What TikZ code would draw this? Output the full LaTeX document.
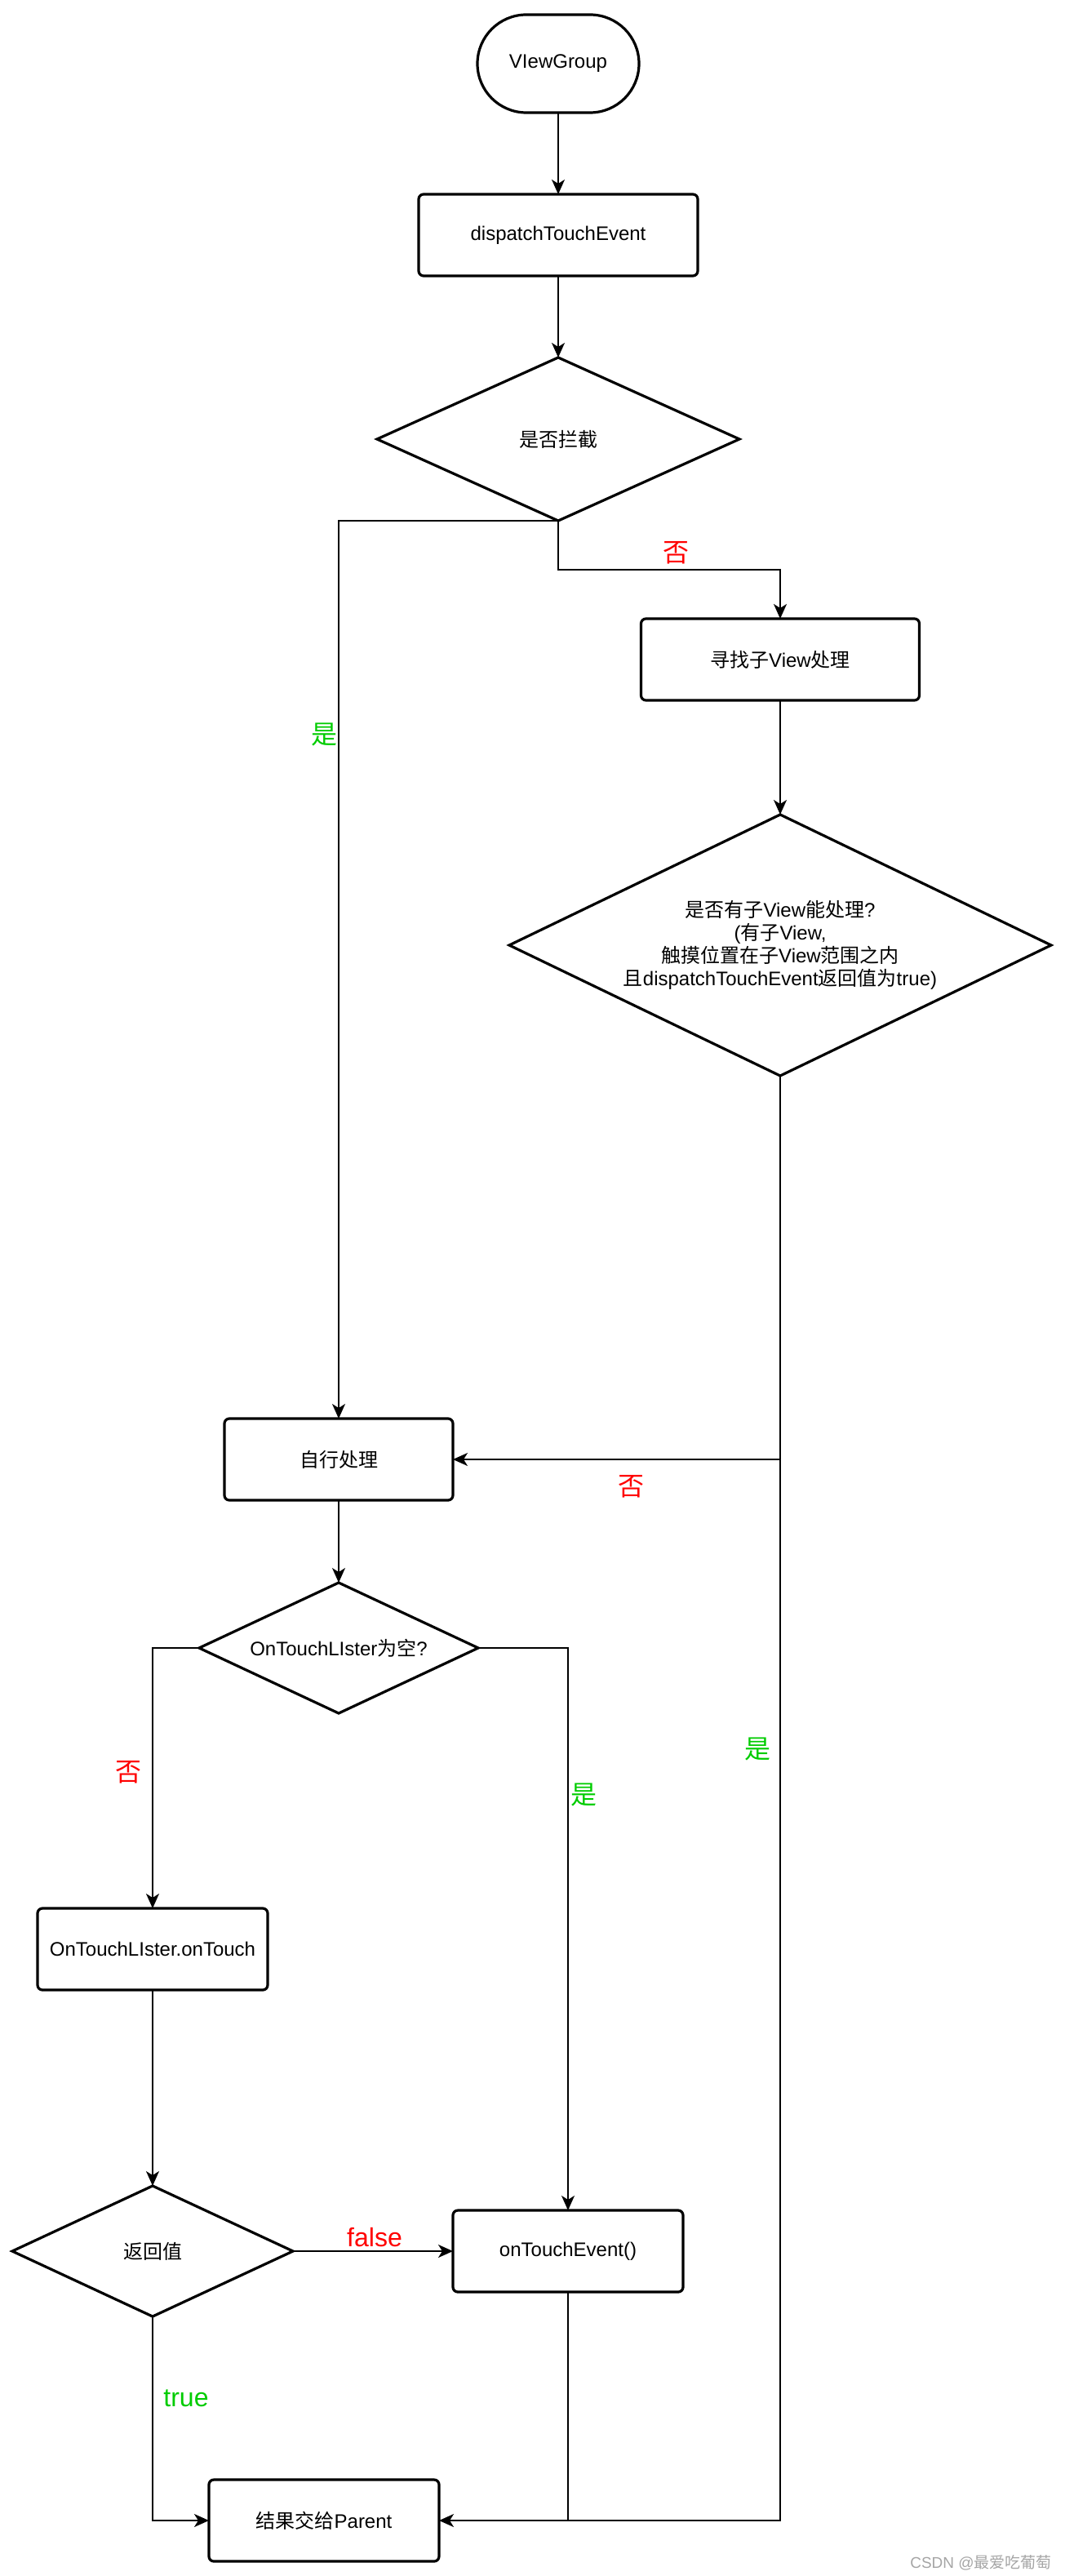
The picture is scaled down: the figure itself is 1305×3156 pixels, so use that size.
\documentclass[tikz,border=0pt]{standalone}
\usepackage{fontspec}
\setmainfont{Liberation Sans}
\newfontfamily\cjkf{Noto Sans CJK SC}
\newcommand\zh[1]{{\cjkf #1}}
\usetikzlibrary{shapes.geometric,shapes.misc,arrows.meta}
\definecolor{nored}{RGB}{255,0,0}
\definecolor{yesgreen}{RGB}{0,204,0}
\definecolor{wmgray}{RGB}{165,165,165}
\begin{document}
\begin{tikzpicture}[x=0.5pt,y=-0.5pt,
  basefont/.style={font=\fontsize{12}{14}\selectfont},
  box/.style={draw, line width=1.6pt, rounded corners=3pt, minimum height=50pt, inner sep=0pt, outer sep=0pt, basefont},
  startbox/.style={draw, rounded rectangle, line width=1.6pt, minimum width=99pt, minimum height=60pt, inner sep=0pt, outer sep=0pt, basefont},
  dia/.style={draw, diamond, line width=1.6pt, inner sep=0pt, outer sep=0pt, align=center, basefont},
  conn/.style={line width=0.9pt},
  arr/.style={conn, -{Stealth[length=9pt,width=8pt,inset=2.5pt]}},
  lblno/.style={text=nored, font=\cjkf\fontsize{16}{19}\selectfont, inner sep=0pt},
  lblyes/.style={text=yesgreen, font=\cjkf\fontsize{16}{19}\selectfont, inner sep=0pt},
  lblfalse/.style={text=nored, font=\fontsize{16}{19}\selectfont, inner sep=0pt},
  lbltrue/.style={text=yesgreen, font=\fontsize{16}{19}\selectfont, inner sep=0pt}
]
\useasboundingbox (0,0) rectangle (1305,3156);

% nodes
\node[startbox] (vg) at (684,78) {VIewGroup};
\node[box, minimum width=171pt] (dte) at (684,288) {dispatchTouchEvent};
\node[dia, aspect=2.22, minimum width=222pt, minimum height=100pt] (d1) at (684,538) {\zh{是否拦截}};
\node[box, minimum width=170.5pt] (find) at (956,808) {\zh{寻找子}View\zh{处理}};
\node[dia, aspect=2.075, minimum width=332pt, minimum height=160pt] (d2) at (956,1158)
  {\zh{是否有子}View\zh{能处理}?\\(\zh{有子}View,\\\zh{触摸位置在子}View\zh{范围之内}\\\zh{且}dispatchTouchEvent\zh{返回值为}true)};
\node[box, minimum width=140pt] (self) at (415,1788) {\zh{自行处理}};
\node[dia, aspect=2.14, minimum width=171pt, minimum height=80pt] (d3) at (415,2019) {OnTouchLIster\zh{为空}?};
\node[box, minimum width=141pt] (otl) at (187,2388) {OnTouchLIster.onTouch};
\node[dia, aspect=2.15, minimum width=172pt, minimum height=80pt] (d4) at (187,2758) {\zh{返回值}};
\node[box, minimum width=141pt] (ote) at (696,2758) {onTouchEvent()};
\node[box, minimum width=141pt] (res) at (397,3088) {\zh{结果交给}Parent};

% connectors
\draw[arr] (vg) -- (dte);
\draw[arr] (dte) -- (d1);
\draw[arr] (d1.south) -- ++(0,60) -| (find.north);
\draw[arr] (d1.south) -| (self.north);
\draw[arr] (find) -- (d2);
\draw[arr] (d2.south) |- (res.east);
\draw[arr] (d2.south |- self.east) -- (self.east);
\draw[arr] (self) -- (d3);
\draw[arr] (d3.west) -| (otl.north);
\draw[arr] (d3.east) -| (ote.north);
\draw[arr] (otl) -- (d4);
\draw[arr] (d4.east) -- (ote.west);
\draw[arr] (d4.south) |- (res.west);
\draw[conn] (ote.south) -- (ote.south |- res.east);

% labels
\node[lblno] (lno1) at (828,677) {否};
\node[lblyes] (lyes1) at (397,900) {是};
\node[lblno] (lno2) at (773,1821) {否};
\node[lblyes] (lyes2) at (928,2143) {是};
\node[lblno] (lno3) at (157,2171) {否};
\node[lblyes] (lyes3) at (715,2199) {是};
\node[lblfalse] (lfalse) at (459,2741) {false};
\node[lbltrue] (ltrue) at (228,2938) {true};

% watermark
\node[text=wmgray, font=\fontsize{9.5}{11}\selectfont, inner sep=0pt] (wm) at (1202,3140) {CSDN @\zh{最爱吃葡萄}};
\end{tikzpicture}
\end{document}
